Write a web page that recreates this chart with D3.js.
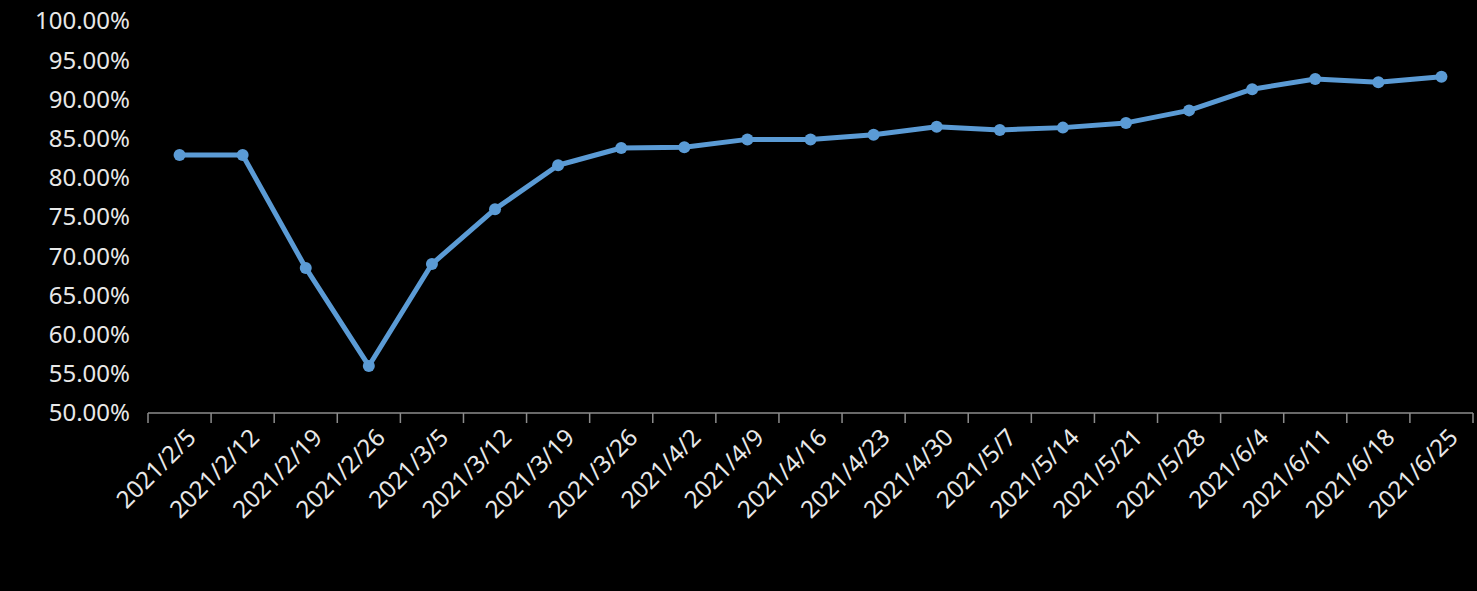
<!DOCTYPE html>
<html>
<head>
<meta charset="UTF-8" />
<script src="https://d3js.org/d3.v7.min.js"></script>
<style>
  body { margin: 0; background: #000; }
  text { font-family: "Noto Sans", "Open Sans", sans-serif; fill: #e8e8e8; }
</style>
</head>
<body>
<div class="chart"></div>
<script>
  var dates = ["2021/2/5","2021/2/12","2021/2/19","2021/2/26","2021/3/5","2021/3/12","2021/3/19",
    "2021/3/26","2021/4/2","2021/4/9","2021/4/16","2021/4/23","2021/4/30","2021/5/7",
    "2021/5/14","2021/5/21","2021/5/28","2021/6/4","2021/6/11","2021/6/18","2021/6/25"];
  var values = [82.9,82.9,68.5,56.0,69.0,76.0,81.6,83.8,83.9,84.9,84.9,85.5,86.5,86.1,
    86.4,87.0,88.6,91.3,92.6,92.2,92.9];
  var yTicks = [50,55,60,65,70,75,80,85,90,95,100];

  var W = 1477, H = 591;
  var plotLeft = 148, plotRight = 1473, plotTop = 21, plotBottom = 413;

  var svg = d3.select(".chart").append("svg").attr("width", W).attr("height", H);

  var x = d3.scaleBand().domain(dates).range([plotLeft, plotRight]);
  var y = d3.scaleLinear().domain([50, 100]).range([plotBottom, plotTop]);

  // y labels
  svg.append("g").selectAll("text").data(yTicks).enter().append("text")
    .attr("x", plotLeft - 18).attr("y", function (d) { return y(d); })
    .attr("dy", "0.35em").attr("text-anchor", "end")
    .style("font-size", "24px")
    .text(function (d) { return d.toFixed(2) + "%"; });

  // x axis line and ticks between categories
  svg.append("line").attr("x1", plotLeft).attr("x2", plotRight)
    .attr("y1", plotBottom).attr("y2", plotBottom)
    .attr("stroke", "#8c8c8c").attr("stroke-width", 1.5);
  var bounds = dates.map(function (d) { return x(d); }).concat([plotRight]);
  svg.append("g").selectAll("line").data(bounds).enter().append("line")
    .attr("x1", function (d) { return d; }).attr("x2", function (d) { return d; })
    .attr("y1", plotBottom).attr("y2", plotBottom + 10)
    .attr("stroke", "#8c8c8c").attr("stroke-width", 1.5);

  // x labels rotated
  svg.append("g").selectAll("text").data(dates).enter().append("text")
    .attr("transform", function (d) {
      return "translate(" + (x(d) + x.bandwidth() / 2 + 12) + "," + (plotBottom + 20) + ") rotate(-45)";
    })
    .attr("text-anchor", "end").attr("dy", "0.35em")
    .style("font-size", "24px")
    .text(function (d) { return d; });

  var cx = function (d, i) { return x(dates[i]) + x.bandwidth() / 2; };

  svg.append("path").datum(values)
    .attr("fill", "none").attr("stroke", "#5b9bd5").attr("stroke-width", 5)
    .attr("stroke-linejoin", "round")
    .attr("d", d3.line().x(cx).y(function (d) { return y(d); }));

  svg.append("g").selectAll("circle").data(values).enter().append("circle")
    .attr("cx", cx).attr("cy", function (d) { return y(d); })
    .attr("r", 6).attr("fill", "#5b9bd5");
</script>
</body>
</html>
